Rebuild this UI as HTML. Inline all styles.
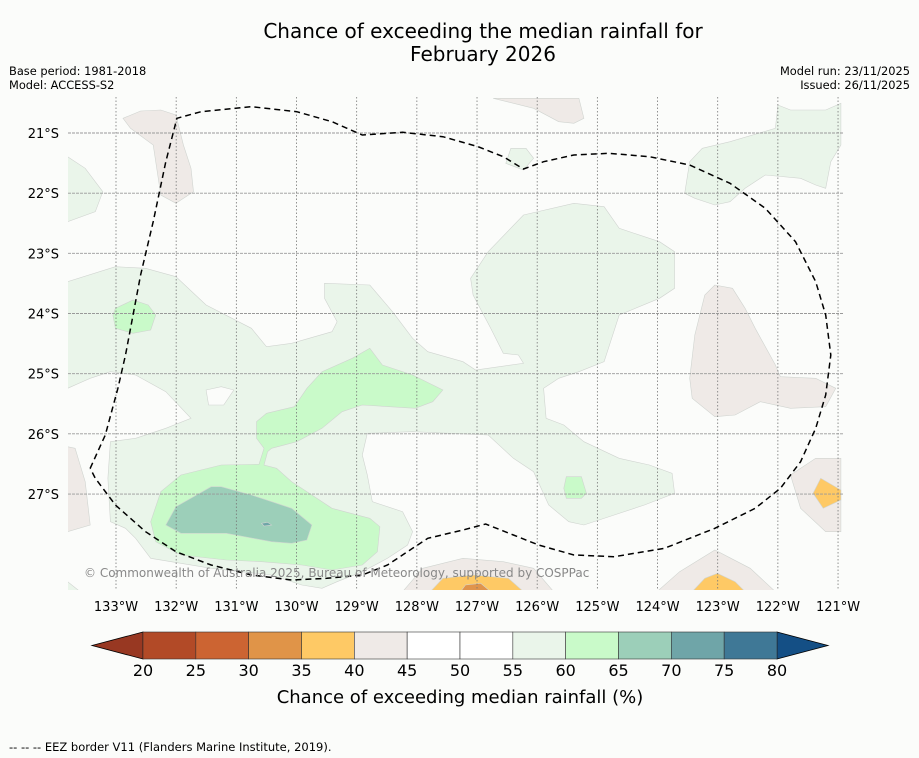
<!DOCTYPE html>
<html><head><meta charset="utf-8"><style>
body{margin:0;background:#fbfcfa;font-family:"Liberation Sans",sans-serif;}
#wrap{position:relative;width:919px;height:758px;overflow:hidden;background:#fbfcfa}
svg text{font-family:"DejaVu Sans","Liberation Sans",sans-serif}
</style></head><body>
<div id="wrap">
<svg id="svg" width="919" height="758" viewBox="0 0 919 758">
<text x="483" y="38" font-size="20" text-anchor="middle">Chance of exceeding the median rainfall for</text>
<text x="483" y="61" font-size="20" text-anchor="middle">February 2026</text>
<text x="9" y="75" font-size="11.4">Base period: 1981-2018</text>
<text x="9" y="89" font-size="11.4">Model: ACCESS-S2</text>
<text x="910" y="75" font-size="11.4" text-anchor="end">Model run: 23/11/2025</text>
<text x="910" y="89" font-size="11.4" text-anchor="end">Issued: 26/11/2025</text>
<g id="map"></g>
<g id="cbar"></g>
<text x="460" y="703" font-size="18" text-anchor="middle">Chance of exceeding median rainfall (%)</text>
<text x="9" y="751" font-size="11.5">--  --  -- EEZ border V11 (Flanders Marine Institute, 2019).</text>
</svg>
</div>
<script>
const lonTicks=[133,132,131,130,129,128,127,126,125,124,123,122,121];
const latTicks=[21,22,23,24,25,26,27];
const levels=[20,25,30,35,40,45,50,55,60,65,70,75,80];
const binColors=["#b24a27","#cc6432","#e09448","#fec965","#efeae7","#ffffff","#ffffff","#eaf5ea","#c9fac9","#9ccfb9","#6fa5a8","#3f7896"];
const lowExt="#983822", highExt="#144f85";
const NS="http://www.w3.org/2000/svg";
const svg=document.getElementById('svg');
const map=document.getElementById('map');
function mk(tag,attrs,parent){const e=document.createElementNS(NS,tag);for(const k in attrs)e.setAttribute(k,attrs[k]);parent.appendChild(e);return e;}
const xLon=l=>116+(133-l)*60.17;
const yLat=l=>133+(l-21)*60.17;
const ix=v=>60+v/1.985, iy=v=>95+v/3;
function pts(a){let s=[];for(let i=0;i<a.length;i+=2)s.push(ix(a[i]).toFixed(1)+","+iy(a[i+1]).toFixed(1));return s.join(" ");}
const L="#eaf5ea",G="#c9fac9",T="#9ccfb9",N="#efeae7",O="#fec965",D="#e0944c";
const shapes=[
[L,[15,560,110,515,170,520,230,545,290,630,380,700,410,755,460,745,540,710,550,680,525,610,525,565,615,570,660,650,700,730,730,770,800,800,825,825,920,805,910,780,880,775,855,700,820,600,815,550,850,470,920,360,1020,325,1080,335,1110,400,1190,440,1220,470,1220,580,1190,610,1110,660,1080,800,1030,830,990,850,960,880,965,970,1000,990,1040,1040,1110,1090,1170,1110,1215,1135,1220,1195,1160,1230,1100,1260,1040,1290,1010,1280,970,1230,940,1130,900,1090,850,1020,700,1010,610,1015,600,1080,610,1140,620,1220,680,1250,700,1310,690,1350,650,1390,600,1430,550,1460,520,1480,480,1470,420,1440,300,1420,180,1390,150,1330,130,1300,100,1280,95,1150,100,1040,150,1030,210,1000,260,970,210,890,150,840,100,830,60,850,15,880]],
["#fbfcfa",[290,885,320,875,345,885,325,930,295,930]],
[L,[1250,200,1275,160,1330,140,1420,100,1425,30,1450,45,1520,45,1550,25,1550,150,1530,200,1520,280,1500,270,1470,250,1400,240,1360,280,1330,320,1300,330,1260,310,1240,295]],
[L,[15,185,50,220,85,290,70,350,15,380]],
[L,[885,205,895,160,925,160,940,190,920,225]],
[L,[15,1460,40,1490,15,1490]],
[G,[615,760,640,810,700,840,760,885,740,920,705,940,600,930,560,950,520,1000,470,1040,420,1060,412,1070,405,1110,430,1120,460,1160,500,1200,540,1240,615,1270,635,1295,630,1370,600,1410,540,1425,480,1410,400,1400,330,1395,240,1380,190,1340,180,1280,200,1190,240,1140,320,1110,395,1108,405,1060,390,1030,390,980,410,955,465,935,490,880,520,830,580,790]],
[G,[110,640,145,615,175,630,190,660,180,705,145,715,110,700,105,660]],
[G,[1005,1145,1035,1145,1045,1195,1035,1210,1005,1210,1000,1180]],
[T,[230,1235,300,1175,320,1175,380,1200,460,1240,500,1290,490,1335,460,1345,420,1340,330,1315,240,1315,210,1290]],
["#6fa5a8",[400,1285,412,1282,420,1290,405,1293]],
[N,[125,70,160,48,200,45,230,60,245,150,260,220,265,290,230,325,200,300,185,150,140,100]],
[N,[860,10,1030,10,1040,70,1020,85,990,80,940,40]],
[N,[1300,570,1335,580,1360,640,1380,700,1420,810,1430,845,1500,850,1540,880,1520,935,1450,940,1390,920,1340,960,1300,965,1255,910,1250,850,1260,720,1280,600]],
[N,[15,1055,30,1060,50,1160,60,1290,15,1310]],
[N,[1450,1140,1500,1090,1550,1090,1550,1310,1520,1310,1470,1240]],
[N,[680,1490,720,1420,800,1390,880,1400,940,1420,980,1490]],
[N,[1185,1490,1230,1430,1300,1365,1370,1420,1420,1490]],
[O,[735,1490,760,1450,820,1440,890,1450,920,1490]],
[O,[1495,1195,1510,1150,1550,1185,1550,1215,1515,1240]],
[O,[1255,1490,1280,1450,1305,1435,1340,1460,1360,1490]],
[D,[795,1490,805,1470,835,1465,855,1490]]
];
const clip=mk('clipPath',{id:'mc'},svg);mk('rect',{x:68,y:97,width:775,height:493},clip);
const g=mk('g',{'clip-path':'url(#mc)'},map);
mk('rect',{x:68,y:97,width:775,height:493,fill:'#fbfcfa'},g);
shapes.forEach(s=>{const p=mk('polygon',{points:pts(s[1]),fill:s[0],stroke:'#d0d4d0','stroke-width':0.6},g);

});
lonTicks.forEach(l=>{const x=xLon(l);
const ln=mk('line',{x1:x,x2:x,y1:97,y2:590,stroke:'#777','stroke-width':0.8,'stroke-dasharray':'1.5,2'},g);


const t=mk('text',{x:x,y:611,'font-size':13,'text-anchor':'middle'},map);t.textContent=l+'°W';

});
latTicks.forEach(l=>{const y=yLat(l);
const ln=mk('line',{x1:68,x2:843,y1:y,y2:y,stroke:'#999','stroke-width':0.9,'stroke-dasharray':'3,1'},g);


const t=mk('text',{x:59,y:y+5,'font-size':13,'text-anchor':'end'},map);t.textContent=l+'°S';

});
const eez=[60,1120,90,1020,115,880,130,780,160,540,185,380,210,200,232,70,280,50,380,35,470,50,540,80,600,120,680,112,760,125,830,155,880,185,920,222,960,200,1020,180,1090,175,1170,185,1250,210,1330,265,1400,340,1460,440,1500,560,1520,660,1530,780,1520,900,1500,1000,1470,1100,1430,1180,1380,1240,1300,1300,1200,1360,1100,1385,1020,1380,950,1350,900,1320,845,1287,800,1305,730,1330,700,1360,650,1410,600,1440,530,1450,460,1455,380,1440,300,1410,230,1370,170,1310,110,1230,70,1150,60,1120];
const e=mk('polyline',{points:pts(eez),fill:'none',stroke:'#000','stroke-width':1.5,'stroke-dasharray':'6,4'},g);


const cr=mk('text',{x:84,y:577,'font-size':12,fill:'#888'},g);cr.textContent='© Commonwealth of Australia 2025, Bureau of Meteorology, supported by COSPPac';


const cb=document.getElementById('cbar');
const cx0=143,cx1=777,cy=632,ch=27;
const cbx=v=>cx0+(v-levels[0])/(levels[levels.length-1]-levels[0])*(cx1-cx0);
mk('polygon',{points:`${cx0},${cy} 92,${cy+ch/2} ${cx0},${cy+ch}`,fill:lowExt,stroke:'#000','stroke-width':0.8},cb);
mk('polygon',{points:`${cx1},${cy} 828,${cy+ch/2} ${cx1},${cy+ch}`,fill:highExt,stroke:'#000','stroke-width':0.8},cb);
binColors.forEach((c,i)=>{const r=mk('rect',{x:cbx(levels[i]),y:cy,width:cbx(levels[i+1])-cbx(levels[i]),height:ch,fill:c,stroke:'#333','stroke-width':0.6},cb);

});
levels.forEach(v=>{const t=mk('text',{x:cbx(v),y:676,'font-size':16,'text-anchor':'middle'},cb);t.textContent=v;

});
</script>
</body></html>
